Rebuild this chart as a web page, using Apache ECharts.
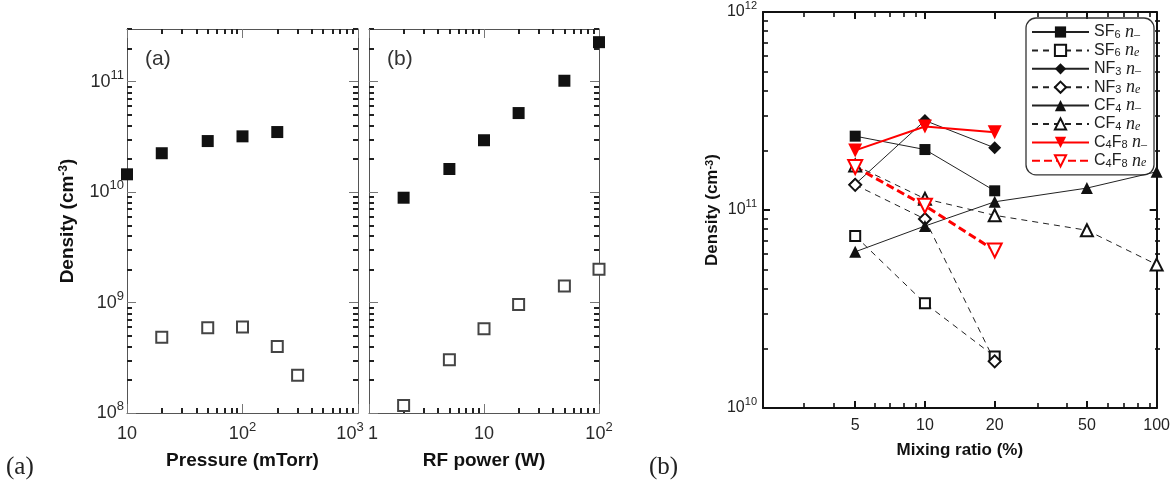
<!DOCTYPE html>
<html><head><meta charset="utf-8">
<script src="https://cdn.jsdelivr.net/npm/echarts@6/dist/echarts.min.js"></script>
<style>html,body{margin:0;padding:0;background:#fff}#c{width:1173px;height:494px}</style>
</head><body><div id="c"></div>
<script>
// ---------------- data ----------------
// panel (a): density vs pressure
const pressureNegX = [10, 20, 50, 100, 200];
const pressureNegY = [1.45e10, 2.25e10, 2.9e10, 3.2e10, 3.5e10];
const pressureNeX = [20, 50, 100, 200, 300];
const pressureNeY = [4.85e8, 5.9e8, 6.0e8, 4.0e8, 2.2e8];
// panel (b): density vs RF power
const powerX = [2, 5, 10, 20, 50, 100];
const powerNegY = [8.9e9, 1.62e10, 2.95e10, 5.2e10, 1.02e11, 2.28e11];
const powerNeY = [1.17e8, 3.03e8, 5.8e8, 9.6e8, 1.41e9, 2.0e9];
// right panel: density vs mixing ratio
const mixX = [5, 10, 20];
const cf4MixX = [5, 10, 20, 50, 100];
const sf6Neg = [2.36e11, 2.02e11, 1.25e11];
const sf6Ne = [7.4e10, 3.38e10, 1.82e10];
const nf3Neg = [1.35e11, 2.83e11, 2.06e11];
const nf3Ne = [1.34e11, 9.0e10, 1.72e10];
const cf4Neg = [6.15e10, 8.3e10, 1.1e11, 1.29e11, 1.56e11];
const cf4Ne = [1.68e11, 1.14e11, 9.4e10, 7.9e10, 5.3e10];
const c4f8Neg = [2.0e11, 2.64e11, 2.47e11];
const c4f8Ne = [1.65e11, 1.05e11, 6.25e10];
const seriesNames = ['SF6 n-', 'SF6 ne', 'NF3 n-', 'NF3 ne', 'CF4 n-', 'CF4 ne', 'C4F8 n-', 'C4F8 ne'];

// ticks and labels
const pressureTicks = [10, 100, 1000];
const pressureTickLabels = ['10', '10^2', '10^3'];
const powerTicks = [1, 10, 100];
const powerTickLabels = ['1', '10', '10^2'];
const densityTicksAB = [1e8, 1e9, 1e10, 1e11];
const densityTickLabelsAB = ['10^8', '10^9', '10^10', '10^11'];
const mixTicks = [5, 10, 20, 50, 100];
const mixTickLabels = ['5', '10', '20', '50', '100'];
const densityTicksC = [1e10, 1e11, 1e12];
const densityTickLabelsC = ['10^10', '10^11', '10^12'];

const axisTitles = {
  pressure: 'Pressure (mTorr)', power: 'RF power (W)', mix: 'Mixing ratio (%)',
  density: 'Density (cm^-3)'
};

// ---------------- helpers ----------------
const FONT = '"Liberation Sans", Arial, sans-serif';
const SERIF = '"Liberation Serif", "DejaVu Serif", serif';

function minorTicks(lo, hi, majors) {
  const out = [];
  for (let d = Math.floor(Math.log10(lo)) - 1; d <= Math.ceil(Math.log10(hi)); d++) {
    for (let k = 1; k <= 9; k++) {
      const v = k * Math.pow(10, d);
      if (v >= lo * 0.9999 && v <= hi * 1.0001 && !majors.some(m => Math.abs(m - v) / v < 1e-6)) out.push(v);
    }
  }
  return out;
}
// edge: 'L' pads the first label on the left, 'R' pads the last label on the right
function richify(s, pad) {
  const i = s.indexOf('^');
  if (i < 0) return '{b' + (pad || '') + '|' + s + '}';
  return '{b|' + s.slice(0, i) + '}{s' + (pad || '') + '|' + s.slice(i + 1) + '}';
}
function labelFmt(ticks, labels, edge) {
  return function (v) {
    const idx = ticks.findIndex(t => Math.abs(t - v) / t < 1e-6);
    if (idx < 0) return '';
    let pad = '';
    if (edge === 'R' && idx === ticks.length - 1) pad = 'R';
    if (edge === 'L' && idx === 0) pad = 'L';
    return richify(labels[idx], pad);
  };
}
function zip(xs, ys) { return xs.map((x, i) => [x, ys[i]]); }

function mkAxis(o) {
  const a = {
    type: 'log', logBase: 10, gridIndex: o.grid, position: o.pos, min: o.min, max: o.max,
    axisLine: { show: o.line !== false, onZero: false, lineStyle: { color: o.lineColor, width: o.lineWidth } },
    axisTick: { show: true, inside: true, length: o.tickLen, customValues: o.ticks,
      lineStyle: { color: o.tickColor, width: o.tickWidth } },
    minorTick: { show: false }, splitLine: { show: false }, silent: true,
    axisLabel: { show: false }
  };
  if (o.labels) {
    a.axisLabel = { show: true, customValues: o.ticks, formatter: labelFmt(o.ticks, o.labels, o.edge),
      margin: o.margin, rich: o.rich, hideOverlap: false };
  }
  if (o.name) {
    a.name = o.name; a.nameLocation = 'middle'; a.nameGap = o.nameGap;
    if (o.nameRotate) a.nameRotate = o.nameRotate;
    a.nameTextStyle = o.nameStyle;
  }
  return a;
}

const cAB = '#2a2a2a';
const richAB = {
  b: { fontSize: 18, fontFamily: FONT, color: cAB, lineHeight: 26 },
  bL: { fontSize: 18, fontFamily: FONT, color: cAB, lineHeight: 26, padding: [0, 0, 0, 8] },
  s: { fontSize: 13, fontFamily: FONT, color: cAB, lineHeight: 13, verticalAlign: 'top' },
  sR: { fontSize: 13, fontFamily: FONT, color: cAB, lineHeight: 13, verticalAlign: 'top', padding: [0, 16, 0, 0] }
};
const richCx = {
  b: { fontSize: 16, fontFamily: FONT, color: '#222', lineHeight: 18 },
  s: { fontSize: 11, fontFamily: FONT, color: '#222', lineHeight: 11, verticalAlign: 'top' }
};
const richCy = {
  b: { fontSize: 16, fontFamily: FONT, color: '#222', lineHeight: 24 },
  s: { fontSize: 11, fontFamily: FONT, color: '#222', lineHeight: 11, verticalAlign: 'top' }
};
function titleStyle(size) {
  return {
    fontSize: size, fontWeight: 'bold', fontFamily: FONT, color: '#111',
    rich: {
      t: { fontSize: size, fontWeight: 'bold', fontFamily: FONT, color: '#111' },
      s: { fontSize: Math.round(size * 0.62), fontWeight: 'bold', fontFamily: FONT, color: '#111',
           verticalAlign: 'top', lineHeight: Math.round(size * 0.62) }
    }
  };
}
function richTitle(s) {
  const i = s.indexOf('^');
  if (i < 0) return '{t|' + s + '}';
  const rest = s.slice(i + 1);
  const j = rest.indexOf(')');
  return '{t|' + s.slice(0, i) + '}{s|' + rest.slice(0, j) + '}{t|' + rest.slice(j) + '}';
}

// ---------------- grids ----------------
const rects = [
  { left: 127, top: 29, width: 231, height: 384 },
  { left: 369, top: 29, width: 230, height: 384 },
  { left: 763, top: 12, width: 397, height: 396 }
];
const grids = rects.concat(rects).map(r => Object.assign({ containLabel: false }, r));

const AB = { lineColor: '#555', lineWidth: 1 };
const majAB = { tickLen: 9, tickColor: '#777', tickWidth: 1 };
const minAB = { tickLen: 5, tickColor: '#222', tickWidth: 2, line: false };
const Cst = { lineColor: '#111', lineWidth: 2 };
const majC = { tickLen: 7, tickColor: '#111', tickWidth: 2 };
const minC = { tickLen: 5, tickColor: '#111', tickWidth: 1.6, line: false };

const aX = { min: 10, max: 1000 }, aY = { min: 1e8, max: 3e11 };
const bX = { min: 1, max: 100 };
const cX = { min: 2, max: 100 }, cY = { min: 1e10, max: 1e12 };

const xAxes = [
  mkAxis(Object.assign({ grid: 0, pos: 'bottom', ticks: pressureTicks, labels: pressureTickLabels, edge: 'R', margin: 8, rich: richAB,
    name: richTitle(axisTitles.pressure), nameGap: 38, nameStyle: titleStyle(19) }, aX, AB, majAB)),
  mkAxis(Object.assign({ grid: 0, pos: 'top', ticks: pressureTicks }, aX, AB, majAB)),
  mkAxis(Object.assign({ grid: 1, pos: 'bottom', ticks: powerTicks, labels: powerTickLabels, edge: 'L', margin: 8, rich: richAB,
    name: richTitle(axisTitles.power), nameGap: 38, nameStyle: titleStyle(19) }, bX, AB, majAB)),
  mkAxis(Object.assign({ grid: 1, pos: 'top', ticks: powerTicks }, bX, AB, majAB)),
  mkAxis(Object.assign({ grid: 2, pos: 'bottom', ticks: mixTicks, labels: mixTickLabels, margin: 9, rich: richCx,
    name: richTitle(axisTitles.mix), nameGap: 34, nameStyle: titleStyle(17) }, cX, Cst, majC)),
  mkAxis(Object.assign({ grid: 2, pos: 'top', ticks: mixTicks }, cX, Cst, majC)),
  // minor ticks
  mkAxis(Object.assign({ grid: 3, pos: 'bottom', ticks: minorTicks(10, 1000, pressureTicks) }, aX, AB, minAB)),
  mkAxis(Object.assign({ grid: 3, pos: 'top', ticks: minorTicks(10, 1000, pressureTicks) }, aX, AB, minAB)),
  mkAxis(Object.assign({ grid: 4, pos: 'bottom', ticks: minorTicks(1, 100, powerTicks) }, bX, AB, minAB)),
  mkAxis(Object.assign({ grid: 4, pos: 'top', ticks: minorTicks(1, 100, powerTicks) }, bX, AB, minAB)),
  mkAxis(Object.assign({ grid: 5, pos: 'bottom', ticks: minorTicks(2, 100, mixTicks.concat([2])) }, cX, Cst, minC)),
  mkAxis(Object.assign({ grid: 5, pos: 'top', ticks: minorTicks(2, 100, mixTicks.concat([2])) }, cX, Cst, minC))
];
const yAxes = [
  mkAxis(Object.assign({ grid: 0, pos: 'left', ticks: densityTicksAB, labels: densityTickLabelsAB, margin: 3, rich: richAB,
    name: richTitle(axisTitles.density), nameGap: 50, nameRotate: 90, nameStyle: titleStyle(19) }, aY, AB, majAB)),
  mkAxis(Object.assign({ grid: 0, pos: 'right', ticks: densityTicksAB }, aY, AB, majAB)),
  mkAxis(Object.assign({ grid: 1, pos: 'left', ticks: densityTicksAB }, aY, AB, majAB)),
  mkAxis(Object.assign({ grid: 1, pos: 'right', ticks: densityTicksAB }, aY, AB, majAB)),
  mkAxis(Object.assign({ grid: 2, pos: 'left', ticks: densityTicksC, labels: densityTickLabelsC, margin: 6, rich: richCy,
    name: richTitle(axisTitles.density), nameGap: 42, nameRotate: 90, nameStyle: titleStyle(17) }, cY, Cst, majC)),
  mkAxis(Object.assign({ grid: 2, pos: 'right', ticks: densityTicksC }, cY, Cst, majC)),
  mkAxis(Object.assign({ grid: 3, pos: 'left', ticks: minorTicks(1e8, 3e11, densityTicksAB) }, aY, AB, minAB)),
  mkAxis(Object.assign({ grid: 3, pos: 'right', ticks: minorTicks(1e8, 3e11, densityTicksAB) }, aY, AB, minAB)),
  mkAxis(Object.assign({ grid: 4, pos: 'left', ticks: minorTicks(1e8, 3e11, densityTicksAB) }, aY, AB, minAB)),
  mkAxis(Object.assign({ grid: 4, pos: 'right', ticks: minorTicks(1e8, 3e11, densityTicksAB) }, aY, AB, minAB)),
  mkAxis(Object.assign({ grid: 5, pos: 'left', ticks: minorTicks(1e10, 1e12, densityTicksC) }, cY, Cst, minC)),
  mkAxis(Object.assign({ grid: 5, pos: 'right', ticks: minorTicks(1e10, 1e12, densityTicksC) }, cY, Cst, minC))
];

// ---------------- series ----------------
const filledSq = { type: 'scatter', symbol: 'rect', symbolSize: 12, itemStyle: { color: '#111', opacity: 1 }, z: 5 };
const openSq = { type: 'scatter', symbol: 'emptyRect', symbolSize: 11, itemStyle: { color: '#444', borderWidth: 1.2, opacity: 1 }, z: 5 };

const blackSolid = { color: '#222', width: 1, type: 'solid' };
const blackDash = { color: '#222', width: 1, type: [6, 5] };
function lineSeries(name, xs, ys, symbol, size, color, lineStyle, rotate) {
  return {
    type: 'line', name: name, xAxisIndex: 4, yAxisIndex: 4, data: zip(xs, ys),
    symbol: symbol, symbolSize: size, symbolRotate: rotate || 0, showAllSymbol: true,
    itemStyle: { color: color, borderWidth: symbol.indexOf('empty') === 0 ? 1.8 : 0 },
    lineStyle: lineStyle, z: 5
  };
}
const series = [
  Object.assign({ xAxisIndex: 0, yAxisIndex: 0, data: zip(pressureNegX, pressureNegY) }, filledSq),
  Object.assign({ xAxisIndex: 0, yAxisIndex: 0, data: zip(pressureNeX, pressureNeY) }, openSq),
  Object.assign({ xAxisIndex: 2, yAxisIndex: 2, data: zip(powerX, powerNegY) }, filledSq),
  Object.assign({ xAxisIndex: 2, yAxisIndex: 2, data: zip(powerX, powerNeY) }, openSq),
  lineSeries(seriesNames[0], mixX, sf6Neg, 'rect', 11, '#111', blackSolid),
  lineSeries(seriesNames[1], mixX, sf6Ne, 'emptyRect', 10, '#111', blackDash),
  lineSeries(seriesNames[2], mixX, nf3Neg, 'diamond', 13, '#111', blackSolid),
  lineSeries(seriesNames[3], mixX, nf3Ne, 'emptyDiamond', 12, '#111', blackDash),
  lineSeries(seriesNames[4], cf4MixX, cf4Neg, 'triangle', 12, '#111', blackSolid),
  lineSeries(seriesNames[5], cf4MixX, cf4Ne, 'emptyTriangle', 12, '#111', blackDash),
  lineSeries(seriesNames[6], mixX, c4f8Neg, 'triangle', 14, '#f00', { color: '#f00', width: 2, type: 'solid' }, 180),
  lineSeries(seriesNames[7], mixX, c4f8Ne, 'emptyTriangle', 14, '#f00', { color: '#f00', width: 3, type: [8, 4] }, 180)
];

function legendText(name) {
  const parts = name.split(' ');
  let out = '';
  for (const ch of parts[0]) out += /\d/.test(ch) ? '{sub|' + ch + '}' : '{t|' + ch + '}';
  const q = parts[1];
  out += '{t| }{it|n}{isub|' + (q[1] === '-' ? '\u2013' : 'e') + '}';
  return out;
}

const chart = echarts.init(document.getElementById('c'), null, { renderer: 'canvas' });
chart.setOption({
  animation: false,
  backgroundColor: '#fff',
  grid: grids,
  xAxis: xAxes,
  yAxis: yAxes,
  series: series,
  legend: {
    data: seriesNames, orient: 'vertical', left: 1026, top: 18,
    padding: [5, 7, 5, 5], itemGap: 0.4, itemWidth: 57, itemHeight: 14,
    borderColor: '#333', borderWidth: 1.3, borderRadius: 10,
    selectedMode: false,
    formatter: legendText,
    textStyle: {
      fontSize: 16, fontFamily: FONT, color: '#222', lineHeight: 17,
      rich: {
        t: { fontSize: 16, fontFamily: FONT, color: '#222', lineHeight: 17 },
        sub: { fontSize: 11, fontFamily: FONT, color: '#222', lineHeight: 8, verticalAlign: 'bottom' },
        it: { fontSize: 18, fontFamily: SERIF, fontStyle: 'italic', color: '#222', lineHeight: 17 },
        isub: { fontSize: 12, fontFamily: SERIF, fontStyle: 'italic', color: '#222', lineHeight: 8, verticalAlign: 'bottom' }
      }
    }
  },
  graphic: [
    { type: 'text', left: 145, top: 49, style: { text: '(a)', fontSize: 21, fontFamily: FONT, fill: '#333' } },
    { type: 'text', left: 387, top: 49, style: { text: '(b)', fontSize: 21, fontFamily: FONT, fill: '#333' } },
    { type: 'text', left: 6, top: 455, style: { text: '(a)', fontSize: 25, fontFamily: SERIF, fill: '#222' } },
    { type: 'text', left: 649, top: 455, style: { text: '(b)', fontSize: 25, fontFamily: SERIF, fill: '#222' } }
  ]
});
</script>
</body></html>
